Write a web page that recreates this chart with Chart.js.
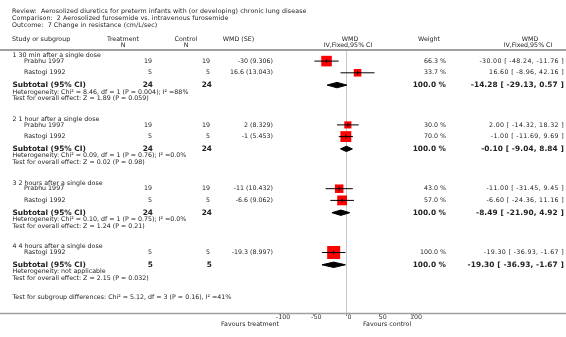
<!DOCTYPE html>
<html>
<head>
<meta charset="utf-8">
<script src="https://cdn.jsdelivr.net/npm/chart.js@4"></script>
<style>
  html, body { margin: 0; padding: 0; background: #fff; }
  canvas { display: block; }
</style>
</head>
<body>
<canvas id="forest" width="566" height="337"></canvas>
<script>
// titles
const reviewLine = 'Review:  Aerosolized diuretics for preterm infants with (or developing) chronic lung disease';
const comparisonLine = 'Comparison:  2 Aerosolized furosemide vs. intravenous furosemide';
const outcomeLine = 'Outcome:  7 Change in resistance (cm/L/sec)';

// subgroups
const subgroups = ['1 30 min after a single dose', '2 1 hour after a single dose', '3 2 hours after a single dose', '4 4 hours after a single dose'];
const subTreatN = [24, 24, 24, 5];
const subControlN = [24, 24, 24, 5];
const subEstimate = [-14.28, -0.10, -8.49, -19.30];
const subLower = [-29.13, -9.04, -21.90, -36.93];
const subUpper = [0.57, 8.84, 4.92, -1.67];
const heterogeneity = [
  'Heterogeneity: Chi\u00b2 = 8.46, df = 1 (P = 0.004); I\u00b2 =88%',
  'Heterogeneity: Chi\u00b2 = 0.09, df = 1 (P = 0.76); I\u00b2 =0.0%',
  'Heterogeneity: Chi\u00b2 = 0.10, df = 1 (P = 0.75); I\u00b2 =0.0%',
  'Heterogeneity: not applicable'
];
const overallEffect = [
  'Test for overall effect: Z = 1.89 (P = 0.059)',
  'Test for overall effect: Z = 0.02 (P = 0.98)',
  'Test for overall effect: Z = 1.24 (P = 0.21)',
  'Test for overall effect: Z = 2.15 (P = 0.032)'
];
const subgroupDiff = 'Test for subgroup differences: Chi\u00b2 = 5.12, df = 3 (P = 0.16), I\u00b2 =41%';

// studies
const studyNames = ['Prabhu 1997', 'Rastogi 1992', 'Prabhu 1997', 'Rastogi 1992', 'Prabhu 1997', 'Rastogi 1992', 'Rastogi 1992'];
const studyGroup = [0, 0, 1, 1, 2, 2, 3];
const treatN = [19, 5, 19, 5, 19, 5, 5];
const controlN = [19, 5, 19, 5, 19, 5, 5];
const wmdSE = ['-30 (9.306)', '16.6 (13.043)', '2 (8.329)', '-1 (5.453)', '-11 (10.432)', '-6.6 (9.062)', '-19.3 (8.997)'];
const estimate = [-30, 16.6, 2, -1, -11, -6.6, -19.3];
const lower = [-48.24, -8.96, -14.32, -11.69, -31.45, -24.36, -36.93];
const upper = [-11.76, 42.16, 18.32, 9.69, 9.45, 11.16, -1.67];
const weight = [66.3, 33.7, 30.0, 70.0, 43.0, 57.0, 100.0];

const xTicks = [-100, -50, 0, 50, 100];
const favoursLeft = 'Favours treatment';
const favoursRight = 'Favours control';

// row layout (vertical units of the hidden y scale)
const ROW = { head: 5.8, study: 11.7, sub: 12.3, het: 6.8, test: 6.4, gap: 20.8 };
const groupY = [], studyY = [], subY = [], hetY = [], testY = [];
let pos = 5.3;
subgroups.forEach((g, gi) => {
  groupY.push(pos);
  pos += ROW.head;
  let first = true;
  studyNames.forEach((s, i) => {
    if (studyGroup[i] !== gi) return;
    if (!first) pos += ROW.study;
    studyY[i] = pos;
    first = false;
  });
  pos += ROW.sub; subY.push(pos);
  pos += ROW.het; hetY.push(pos);
  pos += ROW.test; testY.push(pos);
  pos += ROW.gap;
});
const diffY = pos - 1.3;

const FONT = '"DejaVu Sans", Verdana, sans-serif';
const TXT = '#222';

const datasets = [];
// little vertical mark at each estimate
datasets.push({
  data: estimate.map((v, i) => ({ x: v, y: studyY[i] })),
  pointStyle: 'line', rotation: 90, pointRadius: 2,
  pointBorderColor: '#000', pointBorderWidth: 1, showLine: false
});
// confidence interval whiskers
estimate.forEach((v, i) => {
  datasets.push({
    data: [{ x: lower[i], y: studyY[i] }, { x: upper[i], y: studyY[i] }],
    showLine: true, borderColor: '#000', borderWidth: 1, pointRadius: 0
  });
});
// weight boxes
datasets.push({
  data: estimate.map((v, i) => ({ x: v, y: studyY[i] })),
  pointStyle: 'rect',
  pointRadius: weight.map(w => 1.3 * Math.sqrt(w) / Math.SQRT2),
  pointBackgroundColor: '#ff0000', pointBorderWidth: 0, showLine: false
});
// subtotal diamonds
subEstimate.forEach((v, g) => {
  const y = subY[g];
  datasets.push({
    data: [
      { x: subLower[g], y: y }, { x: v, y: y - 2.7 },
      { x: subUpper[g], y: y }, { x: v, y: y + 2.7 }, { x: subLower[g], y: y }
    ],
    showLine: true, fill: 'shape', tension: 0,
    backgroundColor: '#000', borderColor: '#000', borderWidth: 1, pointRadius: 0
  });
});

function txt(ctx, s, x, y, align, size, bold, spacing) {
  ctx.font = (bold ? 'bold ' : '') + size + 'px ' + FONT;
  ctx.letterSpacing = (spacing || 0) + 'px';
  ctx.textAlign = align;
  ctx.fillText(s, x, y);
}

function ciText(v, lo, hi) {
  return v.toFixed(2) + ' [ ' + lo.toFixed(2) + ', ' + hi.toFixed(2) + ' ]';
}

const forestText = {
  id: 'forestText',
  beforeDatasetsDraw(chart) {
    const ctx = chart.ctx;
    const a = chart.chartArea;
    ctx.save();
    ctx.strokeStyle = '#a0a0a0';
    ctx.lineWidth = 2;
    ctx.beginPath();
    ctx.moveTo(0, a.top); ctx.lineTo(chart.width, a.top);
    ctx.stroke();
    ctx.lineWidth = 1.5;
    ctx.beginPath();
    ctx.moveTo(0, a.bottom + 0.5); ctx.lineTo(chart.width, a.bottom + 0.5);
    ctx.stroke();
    ctx.restore();
  },
  afterDraw(chart) {
    const ctx = chart.ctx;
    const ys = chart.scales.y;
    const Y = v => ys.getPixelForValue(v);
    ctx.save();
    ctx.fillStyle = TXT;
    ctx.textBaseline = 'middle';
    const n = 6.3, b = 7.4;

    txt(ctx, reviewLine, 12, 11, 'left', n, false, 0.08);
    txt(ctx, comparisonLine, 12, 18.5, 'left', n, false, 0.08);
    txt(ctx, outcomeLine, 12, 25, 'left', n, false, 0.08);

    txt(ctx, 'Study or subgroup', 12, 39.5, 'left', n);
    txt(ctx, 'Treatment', 123, 39.5, 'center', n);
    txt(ctx, 'N', 123, 45.5, 'center', n);
    txt(ctx, 'Control', 186, 39.5, 'center', n);
    txt(ctx, 'N', 186, 45.5, 'center', n);
    txt(ctx, 'WMD (SE)', 238.5, 39.5, 'center', n);
    txt(ctx, 'WMD', 350, 39.5, 'center', n);
    txt(ctx, 'IV,Fixed,95% CI', 348, 45.5, 'center', n);
    txt(ctx, 'Weight', 429, 39.5, 'center', n);
    txt(ctx, 'WMD', 530, 39.5, 'center', n);
    txt(ctx, 'IV,Fixed,95% CI', 528, 45.5, 'center', n);

    subgroups.forEach((g, gi) => {
      txt(ctx, g, 12.5, Y(groupY[gi]), 'left', n);
      txt(ctx, 'Subtotal (95% CI)', 12.5, Y(subY[gi]), 'left', b, true);
      txt(ctx, String(subTreatN[gi]), 153, Y(subY[gi]), 'right', b, true);
      txt(ctx, String(subControlN[gi]), 212, Y(subY[gi]), 'right', b, true);
      txt(ctx, '100.0 %', 446, Y(subY[gi]), 'right', b, true);
      txt(ctx, ciText(subEstimate[gi], subLower[gi], subUpper[gi]), 564, Y(subY[gi]), 'right', b, true, 0.1);
      txt(ctx, heterogeneity[gi], 12.5, Y(hetY[gi]), 'left', n);
      txt(ctx, overallEffect[gi], 12.5, Y(testY[gi]), 'left', n);
    });

    studyNames.forEach((s, i) => {
      const y = Y(studyY[i]);
      txt(ctx, s, 24, y, 'left', n);
      txt(ctx, String(treatN[i]), 152, y, 'right', n);
      txt(ctx, String(controlN[i]), 210, y, 'right', n);
      txt(ctx, wmdSE[i], 273, y, 'right', n);
      txt(ctx, weight[i].toFixed(1) + ' %', 446, y, 'right', n);
      txt(ctx, ciText(estimate[i], lower[i], upper[i]), 564, y, 'right', n, false, 0.35);
    });

    txt(ctx, subgroupDiff, 12.5, Y(diffY), 'left', n);
    txt(ctx, favoursLeft, 279, 324.5, 'right', n);
    txt(ctx, favoursRight, 363, 324.5, 'left', n);
    ctx.restore();
  }
};

new Chart(document.getElementById('forest'), {
  type: 'scatter',
  data: { datasets: datasets },
  options: {
    responsive: false,
    animation: false,
    events: [],
    layout: { padding: { left: 280, right: 153, top: 50, bottom: 0 } },
    plugins: { legend: { display: false }, tooltip: { enabled: false } },
    scales: {
      x: {
        type: 'linear', min: -100, max: 100,
        afterBuildTicks: s => { s.ticks = xTicks.map(v => ({ value: v })); },
        afterFit: s => { s.height = 24; },
        border: { display: false },
        grid: {
          color: c => (c.tick && c.tick.value === 0 ? '#c8c8c8' : 'rgba(0,0,0,0)'),
          lineWidth: 1, tickLength: 3, tickColor: '#909090'
        },
        ticks: { color: '#333', font: { family: FONT, size: 6.3 }, padding: -2, labelOffset: 3, maxRotation: 0 }
      },
      y: { type: 'linear', reverse: true, min: 0, max: 263, display: false }
    }
  },
  plugins: [forestText]
});
</script>
</body>
</html>
